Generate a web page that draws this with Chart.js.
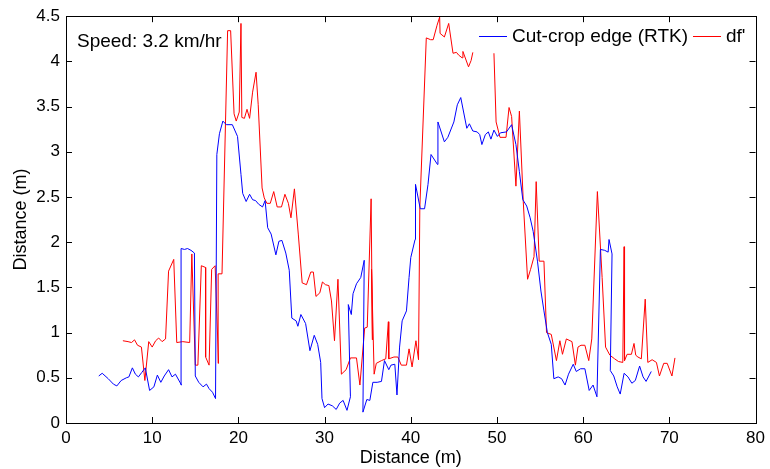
<!DOCTYPE html>
<html>
<head>
<meta charset="utf-8">
<script src="https://cdn.jsdelivr.net/npm/chart.js@4.4.0/dist/chart.umd.min.js"></script>
<style>
  body { margin: 0; background: #fff; }
  #wrap { width: 770px; height: 469px; position: relative; }
</style>
</head>
<body>
<div id="wrap"><canvas id="grafica"></canvas></div>
<script>
// Datos
const xTicks = [0, 10, 20, 30, 40, 50, 60, 70, 80];
const yTicks = [0, 0.5, 1, 1.5, 2, 2.5, 3, 3.5, 4, 4.5];

const rtkLabel = "Cut-crop edge (RTK)";
const rtkX = [3.8, 4.2, 4.9, 5.5, 5.9, 6.4, 7.0, 7.3, 7.7, 8.05, 8.4, 8.8, 9.2, 9.7, 10.2, 10.6, 11.0, 11.4, 11.9, 12.3,
  12.7, 13.4, 13.35, 13.75, 14.1, 14.5, 14.9, 15.0, 15.4, 15.9, 16.3, 16.6, 17.0, 17.35, 17.5, 17.8, 18.2, 18.6, 19.3, 19.9,
  20.3, 20.5, 20.9, 21.3, 21.65, 22.0, 22.35, 22.8, 23.1, 23.4, 23.8, 24.35, 24.7, 25.05, 25.5, 25.9, 26.2, 26.7, 26.9, 27.25,
  27.8, 28.3, 28.8, 29.2, 29.55, 29.7, 30.0, 30.4, 30.9, 31.35, 31.75, 32.15, 32.6, 33.0, 32.75, 33.1, 33.3, 33.7, 34.2, 34.6,
  34.45, 34.9, 35.25, 35.6, 36.1, 36.6, 36.95, 37.45, 37.7, 38.15, 38.4, 38.7, 39.0, 39.5, 39.8, 40.0, 40.5, 40.55, 41.1, 41.6,
  42.0, 42.35, 43.1, 43.15, 43.9, 44.3, 45.0, 45.4, 45.8, 46.5, 46.8, 47.2, 47.7, 48.0, 48.25, 48.65, 49.0, 49.3, 49.65, 50.05,
  50.4, 51.1, 51.7, 52.2, 52.6, 53.0, 53.45, 53.85, 54.2, 54.7, 55.1, 55.45, 55.85, 56.3, 56.6, 57.1, 57.5, 57.9, 58.3, 58.85,
  59.2, 59.7, 60.2, 60.7, 61.15, 61.6, 62.0, 62.5, 62.9, 63.0, 63.35, 63.15, 63.55, 63.95, 64.3, 64.75, 65.2, 65.65, 66.05, 66.55,
  66.95, 67.3, 67.9];
const rtkY = [0.52, 0.55, 0.49, 0.43, 0.41, 0.47, 0.50, 0.51, 0.61, 0.54, 0.51, 0.56, 0.61, 0.36, 0.40, 0.53, 0.45, 0.52, 0.59, 0.51,
  0.54, 0.42, 1.93, 1.92, 1.93, 1.91, 1.88, 0.52, 0.45, 0.40, 0.43, 0.38, 0.34, 0.27, 2.97, 3.20, 3.34, 3.30, 3.30, 3.17,
  2.75, 2.54, 2.45, 2.53, 2.47, 2.46, 2.42, 2.39, 2.46, 2.16, 2.09, 1.86, 2.01, 2.02, 1.88, 1.69, 1.16, 1.13, 1.07, 1.20,
  1.10, 0.80, 0.97, 0.87, 0.67, 0.27, 0.17, 0.21, 0.19, 0.15, 0.22, 0.25, 0.14, 0.29, 1.31, 1.20, 1.43, 1.54, 1.61, 1.80,
  0.12, 0.26, 0.25, 0.45, 0.45, 0.46, 0.69, 0.59, 0.64, 0.65, 0.31, 0.84, 1.13, 1.24, 1.61, 1.83, 2.03, 2.64, 2.37, 2.37,
  2.64, 2.97, 2.86, 3.33, 3.11, 3.16, 3.33, 3.52, 3.60, 3.26, 3.31, 3.23, 3.22, 3.19, 3.08, 3.19, 3.22, 3.14, 3.24, 3.17,
  3.21, 3.22, 3.30, 3.08, 2.78, 2.47, 2.40, 2.27, 2.12, 1.79, 1.46, 1.24, 1.00, 0.87, 0.49, 0.51, 0.49, 0.42, 0.54, 0.65,
  0.57, 0.60, 0.60, 0.36, 0.42, 0.29, 1.92, 1.91, 1.89, 2.03, 1.87, 0.58, 0.52, 0.40, 0.32, 0.55, 0.51, 0.44, 0.47, 0.63,
  0.51, 0.46, 0.57];

const dfLabel = "df'";
const dfX = [6.6, 7.2, 7.6, 7.95, 8.3, 8.75, 9.15, 9.6, 10.0, 10.4, 10.75, 11.15, 11.55, 11.9, 12.5, 12.85, 13.55, 14.35, 14.6, 15.0,
  15.3, 15.7, 16.2, 16.2, 16.6, 16.9, 17.3, 17.7, 17.65, 18.1, 18.75, 19.1, 19.5, 19.75, 20.1, 20.3, 20.4, 20.7, 21.0, 21.3,
  21.65, 22.05, 22.3, 22.75, 23.0, 23.3, 23.7, 24.1, 24.5, 25.0, 25.4, 25.8, 26.1, 26.5, 26.95, 27.4, 27.9, 28.4, 28.7, 29.0,
  29.45, 29.75, 30.1, 30.5, 30.8, 31.15, 31.55, 31.95, 32.5, 33.0, 33.7, 34.1, 34.65, 34.95, 35.4, 35.55, 35.45, 35.75, 36.0, 36.6,
  37.1, 37.4, 37.45, 38.05, 38.5, 38.9, 39.5, 39.8, 40.15, 40.6, 40.9, 41.05, 41.8, 42.3, 42.6, 43.05, 43.35, 43.4, 43.9, 44.4,
  44.9, 45.3, 45.55, 45.95, 46.05, 46.7, 47.0, 47.2, 48.4, 49.65, 49.9, 50.35, 51.05, 51.4, 51.7, 52.2, 52.6, 53.05, 53.55, 53.9,
  54.3, 54.55, 54.9, 55.45, 55.75, 56.3, 56.9, 57.3, 57.6, 58.05, 58.7, 59.1, 59.4, 59.75, 60.2, 60.65, 61.0, 61.65, 62.2, 62.6,
  63.1, 63.65, 64.1, 64.6, 64.75, 64.8, 65.1, 65.6, 65.9, 66.1, 66.35, 66.75, 67.2, 67.5, 68.0, 68.5, 68.85, 69.35, 69.75, 70.3,
  70.65];
const dfY = [0.91, 0.90, 0.89, 0.92, 0.86, 0.84, 0.47, 0.90, 0.84, 0.91, 0.94, 0.90, 0.93, 1.68, 1.81, 0.89, 0.90, 0.89, 1.87, 0.64,
  0.64, 1.74, 1.72, 0.73, 0.64, 1.70, 1.74, 0.66, 1.65, 1.65, 4.34, 4.34, 3.42, 3.34, 3.44, 4.42, 3.38, 3.37, 3.47, 3.37,
  3.66, 3.88, 3.52, 2.60, 2.49, 2.43, 2.43, 2.56, 2.39, 2.39, 2.53, 2.43, 2.27, 2.59, 2.09, 1.55, 1.53, 1.67, 1.67, 1.40,
  1.44, 1.56, 1.53, 1.52, 1.35, 0.91, 1.59, 0.54, 0.59, 0.72, 0.72, 0.42, 1.05, 1.06, 2.48, 0.92, 1.70, 0.54, 0.66, 0.69,
  0.71, 1.12, 0.71, 0.73, 0.73, 0.64, 0.64, 0.82, 0.62, 0.91, 0.70, 2.38, 4.26, 4.24, 4.24, 4.40, 4.49, 4.31, 4.27, 4.42,
  4.09, 4.10, 4.07, 4.04, 4.11, 3.94, 4.01, 4.10, null, 4.09, 3.33, 3.16, 3.16, 3.49, 3.39, 2.62, 3.45, 2.45, 1.59, 1.70,
  1.84, 2.67, 1.79, 1.79, 1.00, 0.98, 0.69, 0.91, 0.76, 0.93, 0.90, 0.64, 0.84, 0.86, 0.86, 0.69, 0.93, 2.56, 1.61, 0.84,
  0.75, 0.71, 0.68, 0.67, 1.95, 0.69, 0.76, 0.76, 0.88, 0.75, 0.73, 0.71, 1.37, 0.67, 0.70, 0.67, 0.52, 0.66, 0.66, 0.52,
  0.72];

const speedNote = "Speed: 3.2 km/hr";
const axisTitle = "Distance (m)";

const FONT = "'Liberation Sans', Arial, Helvetica, sans-serif";

// Caja, marcas interiores, leyenda y nota (estilo MATLAB)
const marco = {
    id: "marco",
    afterDraw(chart) {
        const ctx = chart.ctx;
        const a = chart.chartArea;
        const sx = chart.scales.x, sy = chart.scales.y;
        ctx.save();
        ctx.strokeStyle = "#000";
        ctx.lineWidth = 1;
        ctx.strokeRect(Math.round(a.left) + 0.5, Math.round(a.top) + 0.5,
            Math.round(a.right - a.left), Math.round(a.bottom - a.top));
        ctx.beginPath();
        xTicks.forEach(v => {
            const px = Math.round(sx.getPixelForValue(v)) + 0.5;
            ctx.moveTo(px, a.bottom); ctx.lineTo(px, a.bottom - 6);
            ctx.moveTo(px, a.top); ctx.lineTo(px, a.top + 6);
        });
        yTicks.forEach(v => {
            const py = Math.round(sy.getPixelForValue(v)) + 0.5;
            ctx.moveTo(a.left, py); ctx.lineTo(a.left + 6, py);
            ctx.moveTo(a.right, py); ctx.lineTo(a.right - 6, py);
        });
        ctx.stroke();

        // Nota de velocidad
        ctx.fillStyle = "#000";
        ctx.font = "19px " + FONT;
        ctx.textBaseline = "alphabetic";
        ctx.textAlign = "left";
        ctx.fillText(speedNote, a.left + 11, a.top + 31);

        // Leyenda
        let lx = 479;
        const ly = 36.5;
        chart.data.datasets.forEach(ds => {
            ctx.strokeStyle = ds.borderColor;
            ctx.beginPath();
            ctx.moveTo(lx, ly); ctx.lineTo(lx + 28, ly);
            ctx.stroke();
            ctx.fillStyle = "#000";
            ctx.textBaseline = "middle";
            ctx.fillText(ds.label, lx + 33, ly);
            lx += 33 + ctx.measureText(ds.label).width + 5;
        });
        ctx.restore();
    }
};

function puntos(xs, ys) {
    return xs.map((x, i) => ({ x: x, y: ys[i] }));
}

const ctx = document.getElementById("grafica");
new Chart(ctx, {
    type: "scatter",
    data: {
        datasets: [
            {
                label: rtkLabel,
                data: puntos(rtkX, rtkY),
                borderColor: "#0000ff",
                backgroundColor: "#0000ff",
                borderWidth: 1,
                showLine: true,
                pointRadius: 0,
                tension: 0
            },
            {
                label: dfLabel,
                data: puntos(dfX, dfY),
                borderColor: "#ff0000",
                backgroundColor: "#ff0000",
                borderWidth: 1,
                showLine: true,
                spanGaps: false,
                pointRadius: 0,
                tension: 0
            }
        ]
    },
    options: {
        responsive: true,
        maintainAspectRatio: false,
        animation: false,
        layout: { padding: { top: 14, right: 12, left: 0, bottom: 0 } },
        plugins: {
            legend: { display: false },
            tooltip: { enabled: false }
        },
        scales: {
            x: {
                type: "linear",
                min: 0,
                max: 80,
                afterBuildTicks: s => { s.ticks = xTicks.map(v => ({ value: v })); },
                afterFit: s => { s.height = 46; },
                grid: { display: false, drawTicks: false },
                border: { display: false },
                ticks: { color: "#000", padding: 5, font: { family: FONT, size: 17 } },
                title: {
                    display: true, text: axisTitle, color: "#000",
                    padding: { top: 0, bottom: 0 },
                    font: { family: FONT, size: 18 }
                }
            },
            y: {
                type: "linear",
                min: 0,
                max: 4.5,
                afterBuildTicks: s => { s.ticks = yTicks.map(v => ({ value: v })); },
                afterFit: s => { s.width = 66; },
                grid: { display: false, drawTicks: false },
                border: { display: false },
                ticks: {
                    color: "#000", padding: 6, font: { family: FONT, size: 17 },
                    callback: v => String(v)
                },
                title: {
                    display: true, text: axisTitle, color: "#000",
                    padding: { top: 10, bottom: 0 },
                    font: { family: FONT, size: 18 }
                }
            }
        }
    },
    plugins: [marco]
});
</script>
</body>
</html>
